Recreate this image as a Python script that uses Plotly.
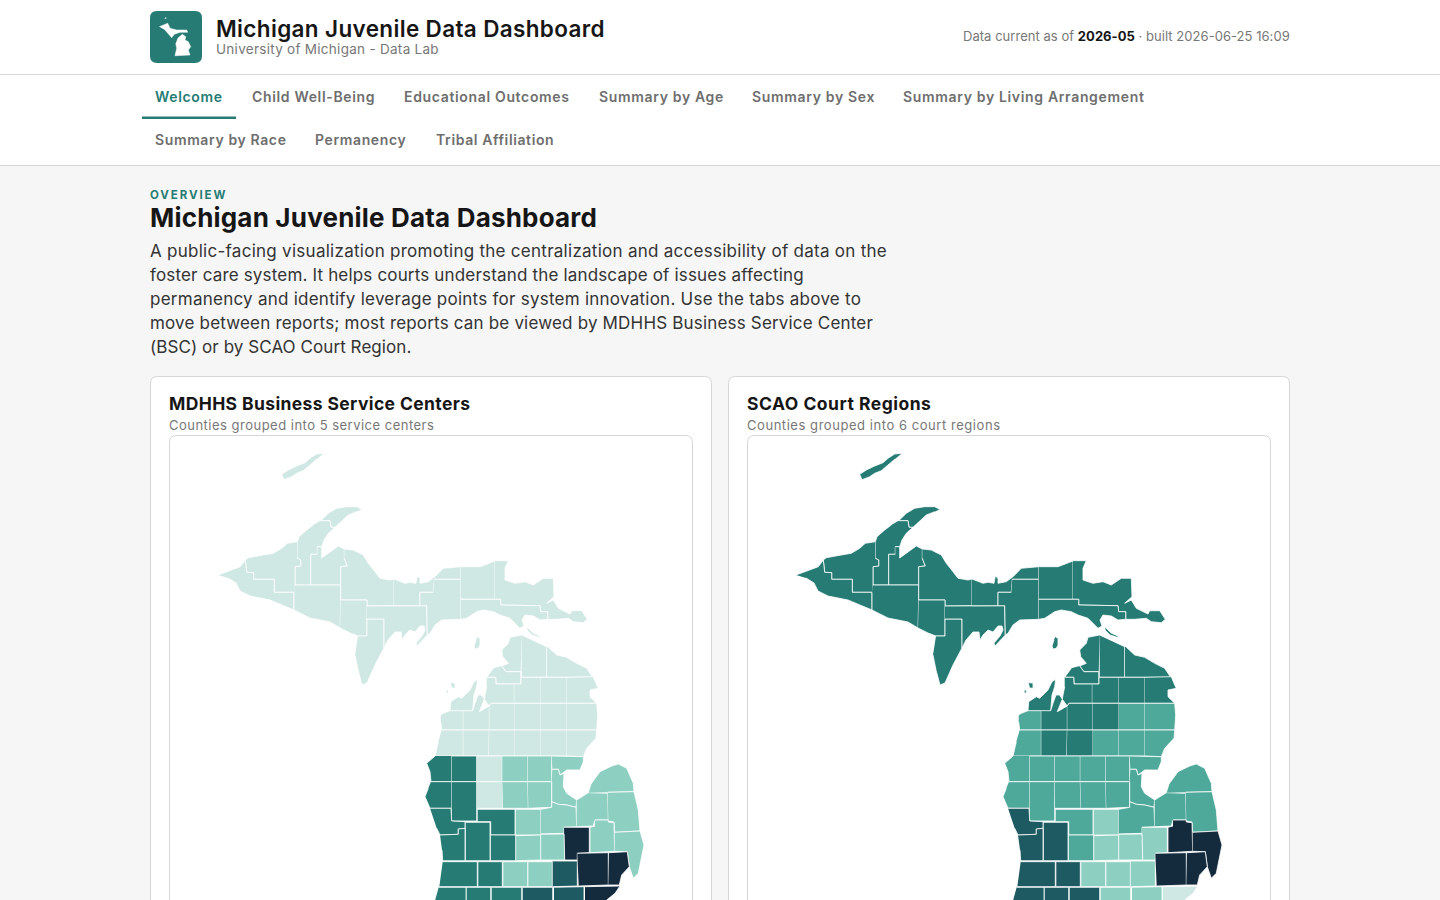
import plotly.graph_objects as go

# page texts
tabs_row1 = ["Welcome", "Child Well-Being", "Educational Outcomes", "Summary by Age", "Summary by Sex", "Summary by Living Arrangement"]
tabs_row1_x = [155, 252, 404, 599, 752, 903]
tabs_row2 = ["Summary by Race", "Permanency", "Tribal Affiliation"]
tabs_row2_x = [155, 315, 436]
intro_lines = [
    "A public-facing visualization promoting the centralization and accessibility of data on the",
    "foster care system. It helps courts understand the landscape of issues affecting",
    "permanency and identify leverage points for system innovation. Use the tabs above to",
    "move between reports; most reports can be viewed by MDHHS Business Service Center",
    "(BSC) or by SCAO Court Region.",
]
intro_tracking = [0.27, 0.17, 0.25, 0.18, 0.07]

# colour classes
PALE, MID, TEAL, SEA, DARK, NAVY = "#d0e8e3", "#8dd0c1", "#267c74", "#4fa99a", "#1d5a62", "#142b3e"

# county outlines, in map units
isle_royale = [(324,453.3),(316.7,454),(310,458.3),(305,462.7),(296.7,466),(288.3,470),(281.7,474.3),(284,479.7),(291.7,476.7),(296.7,473.3),(303.3,470.7),(310,465),(316.7,459.3)]
keweenaw = [(361.7,509.3),(356.7,506.7),(346.7,506.7),(336.7,508.3),(328.3,513.3),(320.7,520.7),(330,520.7),(331,527.3),(335,527.3),(343.3,520),(348.3,515),(356.7,511.7)]
houghton = [(320.7,520.7),(330,520.7),(331,527.3),(335,527.3),(328.3,533.3),(324,540),(321.7,546.7),(317.3,546.7),(317.3,554.3),(310.7,554.3),(310.7,585),(295,585),(295,566.7),(300.7,566),(300.7,560),(297.3,558.3),(297.3,541.7),(299,536.7),(306.7,530),(313.3,525)]
baraga = [(317.3,546.7),(321.7,546.7),(321.7,558),(328.3,553.3),(338.3,546),(344.3,549),(344.3,558.3),(347.3,566),(340.7,566.7),(340.7,585),(310.7,585),(310.7,554.3),(317.3,554.3)]
ontonagon = [(297.3,541.7),(287.3,543.3),(281.7,548.3),(273.3,553.3),(263.3,555),(258.3,555.7),(248.3,557.7),(245.3,560),(246.7,572.3),(253.7,572.7),(253.7,579.3),(274.3,579.3),(274.3,592.3),(295,592.3),(295,566.7),(300.7,566),(300.7,560),(297.3,558.3)]
gogebic = [(218,575),(232,570),(240.3,566.7),(245.3,560),(246.7,572.3),(253.7,572.7),(253.7,579.3),(274.3,579.3),(274.3,592.3),(294,592.3),(294,610),(270,600),(250,596),(240,591),(236,583),(228,578)]
iron = [(295,585),(340.7,585),(340.7,600),(340,628),(330,622),(310,618),(294,610),(294,592.3)]
marquette = [(344.3,549),(353.3,550),(363.3,555),(368.3,563.3),(375,571.7),(380,578.3),(390,580),(394,579),(394,605.7),(367,606),(367,600),(340.7,600),(340.7,566.7),(347.3,566),(344.3,558.3)]
dickinson = [(340.7,600),(367,600),(367,636),(358,636),(350,633),(340,628)]
menominee = [(358,636),(367,636),(367,619),(384,619),(384,648),(375,665),(367,683),(362,685),(358,670),(355,655)]
delta = [(367,606),(394,605.7),(426.7,605.7),(427.3,635),(423,640),(417,646),(416,643),(422,636),(425,630),(424,626),(420,626),(415,632),(410,630),(405,635),(402,640),(401,632),(395,632),(388,640),(384,648),(384,619),(367,619)]
alger = [(394,579),(405,583.3),(410,582.3),(416,583.3),(417.3,576),(420,578.3),(420,583.3),(428.3,581.7),(435,576.7),(443.3,568.3),(460.7,566.7),(460.7,579.3),(434.3,579.3),(433.3,592.3),(420,592.3),(420,605.7),(394,605.7)]
schoolcraft = [(434.3,579.3),(460.7,579.3),(460.7,619.3),(450,620),(441.7,620),(435,625),(430,633.3),(427.3,635),(426.7,605.7),(420,605.7),(420,592.3),(433.3,592.3)]
luce = [(460.7,566.7),(480,566.7),(495,561),(495,599.3),(460.7,599.3)]
chippewa = [(495,560.7),(508.3,560.7),(505,568.3),(505,580),(515,583.3),(525,581.7),(533.3,585),(543.3,578.3),(553.3,578.3),(554,596.7),(546.7,603.3),(553.3,600),(558.3,608.3),(570,614),(571.7,610.7),(581.7,610.7),(587.3,619.3),(583.3,622.7),(573.3,621.7),(568.3,618.3),(556.7,619.3),(547.7,619.3),(547.7,611.7),(540.7,611.7),(540,605.7),(500.7,605),(500.7,599.3),(495,599.3)]
mackinac = [(460.7,599.3),(500.7,599.3),(500.7,605),(540,605.7),(540.7,611.7),(547.7,611.7),(547.7,619.3),(540,620),(533.3,616),(525,615),(522,620),(524,626),(520,628.3),(510,618.3),(500,615),(493.3,611.7),(483.3,610),(476.7,611.7),(466.7,618.3),(460.7,619.3)]
bois_blanc = [(527,627),(533,633),(540,636),(540,637.5),(532,635),(528,631)]
beaver = [(477.3,636.7),(480,638.3),(480,645),(478.3,648.3),(475,649),(474,646),(476,640)]
manitou_n = [(450.7,682.7),(455,683),(455,688.3),(452,688)]
manitou_s = [(446.7,690),(448.3,690),(448.3,693),(446.7,693)]
emmet = [(521.7,635),(510,637.3),(508.3,643.3),(501.7,650),(502.7,656.7),(508.3,663.3),(501.7,666),(506,671.7),(520.7,671.7)]
cheboygan = [(521.7,635),(546.7,646.7),(546.7,677.3),(521.7,677.3)]
presque_isle = [(547,646),(556.7,655),(566.7,657.3),(576.7,663.3),(586.7,668.3),(592.7,677.3),(547,677.3)]
charlevoix = [(501.7,666),(506,671.7),(520.7,671.7),(521,684),(496,684),(495.7,677.3),(486.7,677.3),(493.3,668.3)]
antrim = [(486.7,677.3),(495.7,677.3),(496,684),(514.3,684),(514.3,703.3),(491,703.3),(489.3,706),(484.3,699.3),(485,695),(486.7,686.7)]
otsego = [(514.3,684),(521,684),(521,677.3),(541,677.3),(541,703.3),(514.3,703.3)]
montmorency = [(541,677.3),(567,677.3),(567,703.3),(541,703.3)]
alpena = [(567,677.3),(593.3,676.7),(596.7,685),(598.3,688.3),(590,690),(590,696.7),(596.7,703.3),(567,703.3)]
leelanau = [(450,710.7),(450.7,701.7),(458.3,696.7),(461.7,698.3),(470,690),(474,681.7),(477.7,679.3),(476.7,686.7),(474,695),(472.7,710.7)]
benzie = [(440.7,715),(443.3,713.3),(450,710.7),(463.3,710.7),(463.3,730),(441.7,730),(440.7,722)]
grand_traverse = [(463.3,710.7),(472.7,710.7),(475,703.3),(478,695),(481.7,695),(484.3,699.3),(482,705),(479.3,711.7),(489.3,706),(489.3,730),(463.3,730)]
kalkaska = [(489.3,706),(491,703.3),(515,703.3),(515,730),(489.3,730)]
crawford = [(515,703.3),(541,703.3),(541,730),(515,730)]
oscoda = [(541,703.3),(567,703.3),(567,730),(541,730)]
alcona = [(567,703.3),(596.7,703.3),(597.7,715),(596.7,730),(567,730)]
manistee = [(441.7,730),(463.3,730),(463.3,756),(435,756),(438.3,741.7)]
wexford = [(463.3,730),(489.3,730),(488.7,756),(463.3,756)]
missaukee = [(489.3,730),(515,730),(515,756),(488.7,756)]
roscommon = [(515,730),(541,730),(541,756),(515,756)]
ogemaw = [(541,730),(567,730),(567,756),(541,756)]
iosco = [(567,730),(596.7,730),(596,738.3),(586.7,748.3),(583.3,756.7),(567,756)]
mason = [(435,756),(426.7,763.3),(430,771.7),(431,781.7),(451.7,781.7),(451.7,756)]
lake = [(451.7,756),(476.7,756),(476.7,781.7),(451.7,781.7)]
osceola = [(476.7,756),(502.3,756),(502.3,781.7),(476.7,781.7)]
clare = [(502.3,756),(527.7,756),(527.7,781.7),(502.3,781.7)]
gladwin = [(527.7,756),(551.7,756),(551.7,781.7),(527.7,781.7)]
arenac = [(551.7,756),(583.3,756.7),(583.3,761.7),(580,770),(566.7,770),(560,775),(558.3,769.3),(552.3,769.3)]
oceana = [(431,781.7),(451.7,781.7),(451.7,808.3),(430,808.3),(425,796.7),(428.3,788.3)]
newaygo = [(451.7,781.7),(476.7,781.7),(476.7,821),(451.7,821)]
mecosta = [(476.7,781.7),(502.3,781.7),(503,808.3),(477,808.3)]
isabella = [(502.3,781.7),(527.7,781.7),(528.3,808.3),(503,808.3)]
midland = [(527.7,781.7),(551.7,781.7),(551.7,807.3),(528.3,808.3)]
bay = [(552.3,769.3),(558.3,769.3),(560,775),(564,773.3),(563.3,786.7),(566.7,793.3),(576.7,800),(576,807.3),(566.7,805),(558.3,804.3),(551.7,801.7),(551.7,781.7)]
muskegon = [(430,808.3),(451,808.3),(451.7,821),(465,821.7),(465,828.3),(458.3,829),(458.3,834.3),(440,835),(436.7,828.3)]
montcalm = [(477.7,809.3),(515,809.3),(515,835),(490.7,835),(490.7,821.7),(477.7,821.7)]
gratiot = [(515.7,809.3),(540.7,809.3),(540.7,835),(515.7,835)]
saginaw = [(540.7,809.3),(551.7,807.3),(551.7,801.7),(558.3,804.3),(566.7,805),(576,807.3),(576.7,826.7),(564,827.3),(564,833.3),(540.7,834)]
tuscola = [(576.7,800),(588.3,792.7),(607.7,793.3),(608.3,820),(595,820),(593.3,826),(576.7,826.7)]
huron = [(588.3,792.7),(591,784),(600,771.7),(611.7,766),(618.3,764),(626.7,768.3),(633.3,783.3),(634,791.7),(607.7,792.3)]
sanilac = [(607.7,792.3),(634,791.7),(638.3,810),(640,831),(614.7,832.3),(614,822),(608.3,821)]
lapeer = [(595,820),(608.3,820),(608.3,822),(614,822.7),(614.7,851.3),(590,852.7),(590,827.3),(595,826)]
st_clair = [(614.7,832.3),(640,831),(644,845),(638.3,873.3),(633.3,878.3),(629.3,866.7),(627.3,851.7),(614.7,851.3)]
genesee = [(564,827.3),(589.3,827.3),(589.3,852.7),(577.3,853.3),(577.3,860),(564.7,860)]
shiawassee = [(540.7,834.3),(564,834),(564.7,860),(540.7,860)]
clinton = [(516,835.7),(540.7,835),(540.7,860),(516,860.7)]
ionia = [(490.7,835),(515.7,835),(515.7,860.7),(490.7,860.7)]
kent = [(465.7,822.3),(490,822.3),(490,860.7),(465.7,860.7)]
ottawa = [(440,835),(458.3,834.3),(458.3,829),(465,828.3),(465,860.7),(442.7,860.7),(442,850)]
allegan = [(442.7,861.7),(477.3,861.7),(477.3,886.7),(439.3,886.7)]
barry = [(478.3,861.7),(502.3,861.7),(502.3,886.7),(478.3,886.7)]
eaton = [(503.3,861.7),(527.7,861.7),(527.7,886.7),(503.3,886.7)]
ingham = [(528.3,861.7),(552.3,861.7),(552.3,886.7),(528.3,886.7)]
livingston = [(552.7,861),(577.3,861),(577.3,886),(552.7,886.7)]
oakland = [(577.3,853.3),(608.3,852.7),(608.3,885),(578.7,886)]
macomb = [(609,852.7),(627.3,851.7),(629.3,866.7),(621.7,875),(619.3,885),(608.3,885)]
van_buren = [(438.7,887.3),(466,887.3),(466,915),(431,915)]
kalamazoo = [(466.7,887.3),(490.7,887.3),(490.7,915),(466.7,915)]
calhoun = [(491.7,887.3),(521.7,887.3),(521.7,915),(491.7,915)]
jackson = [(522.7,887.3),(552.7,887.3),(552.7,915),(522.7,915)]
washtenaw = [(554,887.3),(584,886.7),(584,915),(554,915)]
wayne = [(585,886.7),(620,886),(615,893.3),(606.7,900),(600,915),(585,915)]

logo_up = [(159.3,26.7),(165,24.3),(167.7,23.3),(170,28.3),(176.7,30),(186.7,30),(187.7,32.3),(180,32.3),(174.3,34.3),(171.7,37.7),(168.3,33.3),(165,30)]
logo_lp = [(177.7,38.3),(182.3,34.3),(185.7,36.7),(185,40),(188.3,41.7),(190.7,46.7),(188.3,50),(190,55),(175,55.7),(176.7,48.3),(175.7,43.3)]
logo_isle = [(164.5,18.7),(166,17.5),(166.3,18.5)]

# shape, class in the BSC map, class in the SCAO map
counties = [
    (isle_royale, PALE, TEAL), (keweenaw, PALE, TEAL), (houghton, PALE, TEAL), (baraga, PALE, TEAL),
    (ontonagon, PALE, TEAL), (gogebic, PALE, TEAL), (iron, PALE, TEAL), (marquette, PALE, TEAL),
    (dickinson, PALE, TEAL), (menominee, PALE, TEAL), (delta, PALE, TEAL), (alger, PALE, TEAL),
    (schoolcraft, PALE, TEAL), (luce, PALE, TEAL), (chippewa, PALE, TEAL), (mackinac, PALE, TEAL),
    (bois_blanc, PALE, TEAL), (beaver, PALE, TEAL), (manitou_n, PALE, TEAL), (manitou_s, PALE, TEAL),
    (emmet, PALE, TEAL), (cheboygan, PALE, TEAL), (presque_isle, PALE, TEAL), (charlevoix, PALE, TEAL),
    (antrim, PALE, TEAL), (otsego, PALE, TEAL), (montmorency, PALE, TEAL), (alpena, PALE, TEAL),
    (leelanau, PALE, TEAL), (benzie, PALE, SEA), (grand_traverse, PALE, TEAL), (kalkaska, PALE, TEAL),
    (crawford, PALE, TEAL), (oscoda, PALE, SEA), (alcona, PALE, SEA), (manistee, PALE, SEA),
    (wexford, PALE, TEAL), (missaukee, PALE, TEAL), (roscommon, PALE, SEA), (ogemaw, PALE, SEA),
    (iosco, PALE, SEA), (mason, TEAL, SEA), (lake, TEAL, SEA), (osceola, PALE, SEA), (clare, MID, SEA),
    (gladwin, MID, SEA), (arenac, MID, SEA), (oceana, TEAL, SEA), (newaygo, TEAL, SEA), (mecosta, PALE, SEA),
    (isabella, MID, SEA), (midland, MID, SEA), (bay, MID, SEA), (muskegon, TEAL, DARK), (montcalm, TEAL, SEA),
    (gratiot, MID, MID), (saginaw, MID, SEA), (tuscola, MID, SEA), (huron, MID, SEA), (sanilac, MID, SEA),
    (lapeer, MID, NAVY), (st_clair, MID, NAVY), (genesee, NAVY, MID), (shiawassee, MID, MID), (clinton, MID, MID),
    (ionia, TEAL, SEA), (kent, TEAL, DARK), (ottawa, TEAL, DARK), (allegan, TEAL, DARK), (barry, TEAL, DARK),
    (eaton, MID, MID), (ingham, MID, MID), (livingston, DARK, MID), (oakland, NAVY, NAVY), (macomb, NAVY, NAVY),
    (van_buren, TEAL, DARK), (kalamazoo, TEAL, DARK), (calhoun, TEAL, DARK), (jackson, DARK, MID),
    (washtenaw, DARK, MID), (wayne, NAVY, PALE),
]


def px(x):
    return x / 1440


def py(y):
    return 1 - y / 900


def rounded(x0, y0, x1, y1, r):
    return (f"M{px(x0 + r)},{py(y0)} L{px(x1 - r)},{py(y0)} Q{px(x1)},{py(y0)} {px(x1)},{py(y0 + r)} "
            f"L{px(x1)},{py(y1 - r)} Q{px(x1)},{py(y1)} {px(x1 - r)},{py(y1)} L{px(x0 + r)},{py(y1)} "
            f"Q{px(x0)},{py(y1)} {px(x0)},{py(y1 - r)} L{px(x0)},{py(y0 + r)} Q{px(x0)},{py(y0)} {px(x0 + r)},{py(y0)} Z")


def box(path, fill, line):
    return dict(type="path", path=path, xref="paper", yref="paper", fillcolor=fill,
                line=dict(color=line, width=1), layer="below")


def label(x, y, text, size, color, weight=400, anchor="left", spacing=0):
    # Inter is narrower than the page's font, so open the tracking up a bit
    shift = -1 if anchor == "left" else 1
    return dict(x=px(x + shift), y=py(y - 0.5), xref="paper", yref="paper",
                text=f"<span style='letter-spacing:{spacing}px'>{text}</span>", showarrow=False, xanchor=anchor,
                yanchor="middle", borderpad=0, align=anchor,
                font=dict(family="Inter", size=size, color=color, weight=weight))


fig = go.Figure()

for shape, bsc, scao in counties:
    xs = [p[0] for p in shape]
    ys = [p[1] for p in shape]
    fig.add_trace(go.Scatter(x=xs, y=ys, fill="toself", fillcolor=bsc, mode="lines",
                             line=dict(color="white", width=0.8), hoverinfo="skip", xaxis="x", yaxis="y"))
    fig.add_trace(go.Scatter(x=xs, y=ys, fill="toself", fillcolor=scao, mode="lines",
                             line=dict(color="white", width=0.8), hoverinfo="skip", xaxis="x2", yaxis="y2"))

for part in (logo_up, logo_lp, logo_isle):
    fig.add_trace(go.Scatter(x=[p[0] for p in part], y=[p[1] for p in part], fill="toself", fillcolor="white",
                             mode="lines", line=dict(color="white", width=0.5), hoverinfo="skip",
                             xaxis="x3", yaxis="y3"))

shapes = [
    dict(type="rect", xref="paper", yref="paper", x0=0, x1=1, y0=py(165.5), y1=1, fillcolor="white", line_width=0, layer="below"),
    dict(type="line", xref="paper", yref="paper", x0=0, x1=1, y0=py(74.5), y1=py(74.5), line=dict(color="#d6d6d6", width=1), layer="below"),
    dict(type="line", xref="paper", yref="paper", x0=0, x1=1, y0=py(165.5), y1=py(165.5), line=dict(color="#d6d6d6", width=1), layer="below"),
    dict(type="rect", xref="paper", yref="paper", x0=px(142), x1=px(236), y0=py(119), y1=py(116.5), fillcolor="#267c74", line_width=0, layer="below"),
    dict(type="path", xref="paper", yref="paper", path=rounded(150, 11, 202, 63, 7), fillcolor="#267c74", line_width=0, layer="below"),
    box(rounded(150.5, 376.5, 711.5, 960, 7), "white", "#d6d6d6"),
    box(rounded(728.5, 376.5, 1289.5, 960, 7), "white", "#d6d6d6"),
    box(rounded(169.5, 435.5, 692.5, 960, 7), "white", "#d6d6d6"),
    box(rounded(747.5, 435.5, 1270.5, 960, 7), "white", "#d6d6d6"),
]

annotations = [
    label(216, 29, "Michigan Juvenile Data Dashboard", 22.5, "#161616", 600, spacing=0.35),
    label(216, 49.5, "University of Michigan - Data Lab", 13.5, "#777777", spacing=0.28),
    label(1290, 36.5, "Data current as of <b style='color:#161616'>2026-05</b> · built 2026-06-25 16:09", 13, "#777777", anchor="right", spacing=0.04),
    label(150, 195.5, "OVERVIEW", 11.5, "#267c74", 700, spacing=1.9),
    label(150, 218, "Michigan Juvenile Data Dashboard", 26, "#161616", 700, spacing=0.19),
    label(168.5, 404, "MDHHS Business Service Centers", 17.5, "#161616", 700, spacing=0.38),
    label(168.5, 425.5, "Counties grouped into 5 service centers", 13, "#777777", spacing=0.49),
    label(746.5, 404, "SCAO Court Regions", 17.5, "#161616", 700, spacing=0.5),
    label(746.5, 425.5, "Counties grouped into 6 court regions", 13, "#777777", spacing=0.55),
]
for name, x in zip(tabs_row1, tabs_row1_x):
    annotations.append(label(x, 97, name, 14, "#267c74" if name == "Welcome" else "#6e6e6e", 600, spacing=0.66))
for name, x in zip(tabs_row2, tabs_row2_x):
    annotations.append(label(x, 140, name, 14, "#6e6e6e", 600, spacing=0.62))
for i, (line, track) in enumerate(zip(intro_lines, intro_tracking)):
    annotations.append(label(150, 251.5 + 24 * i, line, 17, "#333333", spacing=track))

hidden = dict(visible=False, fixedrange=True)
fig.update_layout(
    width=1440, height=900, margin=dict(l=0, r=0, t=0, b=0, pad=0),
    paper_bgcolor="#f6f6f6", plot_bgcolor="rgba(0,0,0,0)", showlegend=False,
    shapes=shapes, annotations=annotations,
    xaxis=dict(domain=[px(170), px(692)], range=[170, 692], **hidden),
    yaxis=dict(domain=[0, py(436)], range=[900, 436], **hidden),
    xaxis2=dict(domain=[px(748), px(1270)], range=[170, 692], **hidden),
    yaxis2=dict(domain=[0, py(436)], range=[900, 436], **hidden),
    xaxis3=dict(domain=[px(150), px(202)], range=[150, 202], **hidden),
    yaxis3=dict(domain=[py(63), py(11)], range=[63, 11], **hidden),
)

fig.write_html("out.html", config=dict(displayModeBar=False),
               post_script="document.body.style.margin='0';document.body.style.overflow='hidden';")
